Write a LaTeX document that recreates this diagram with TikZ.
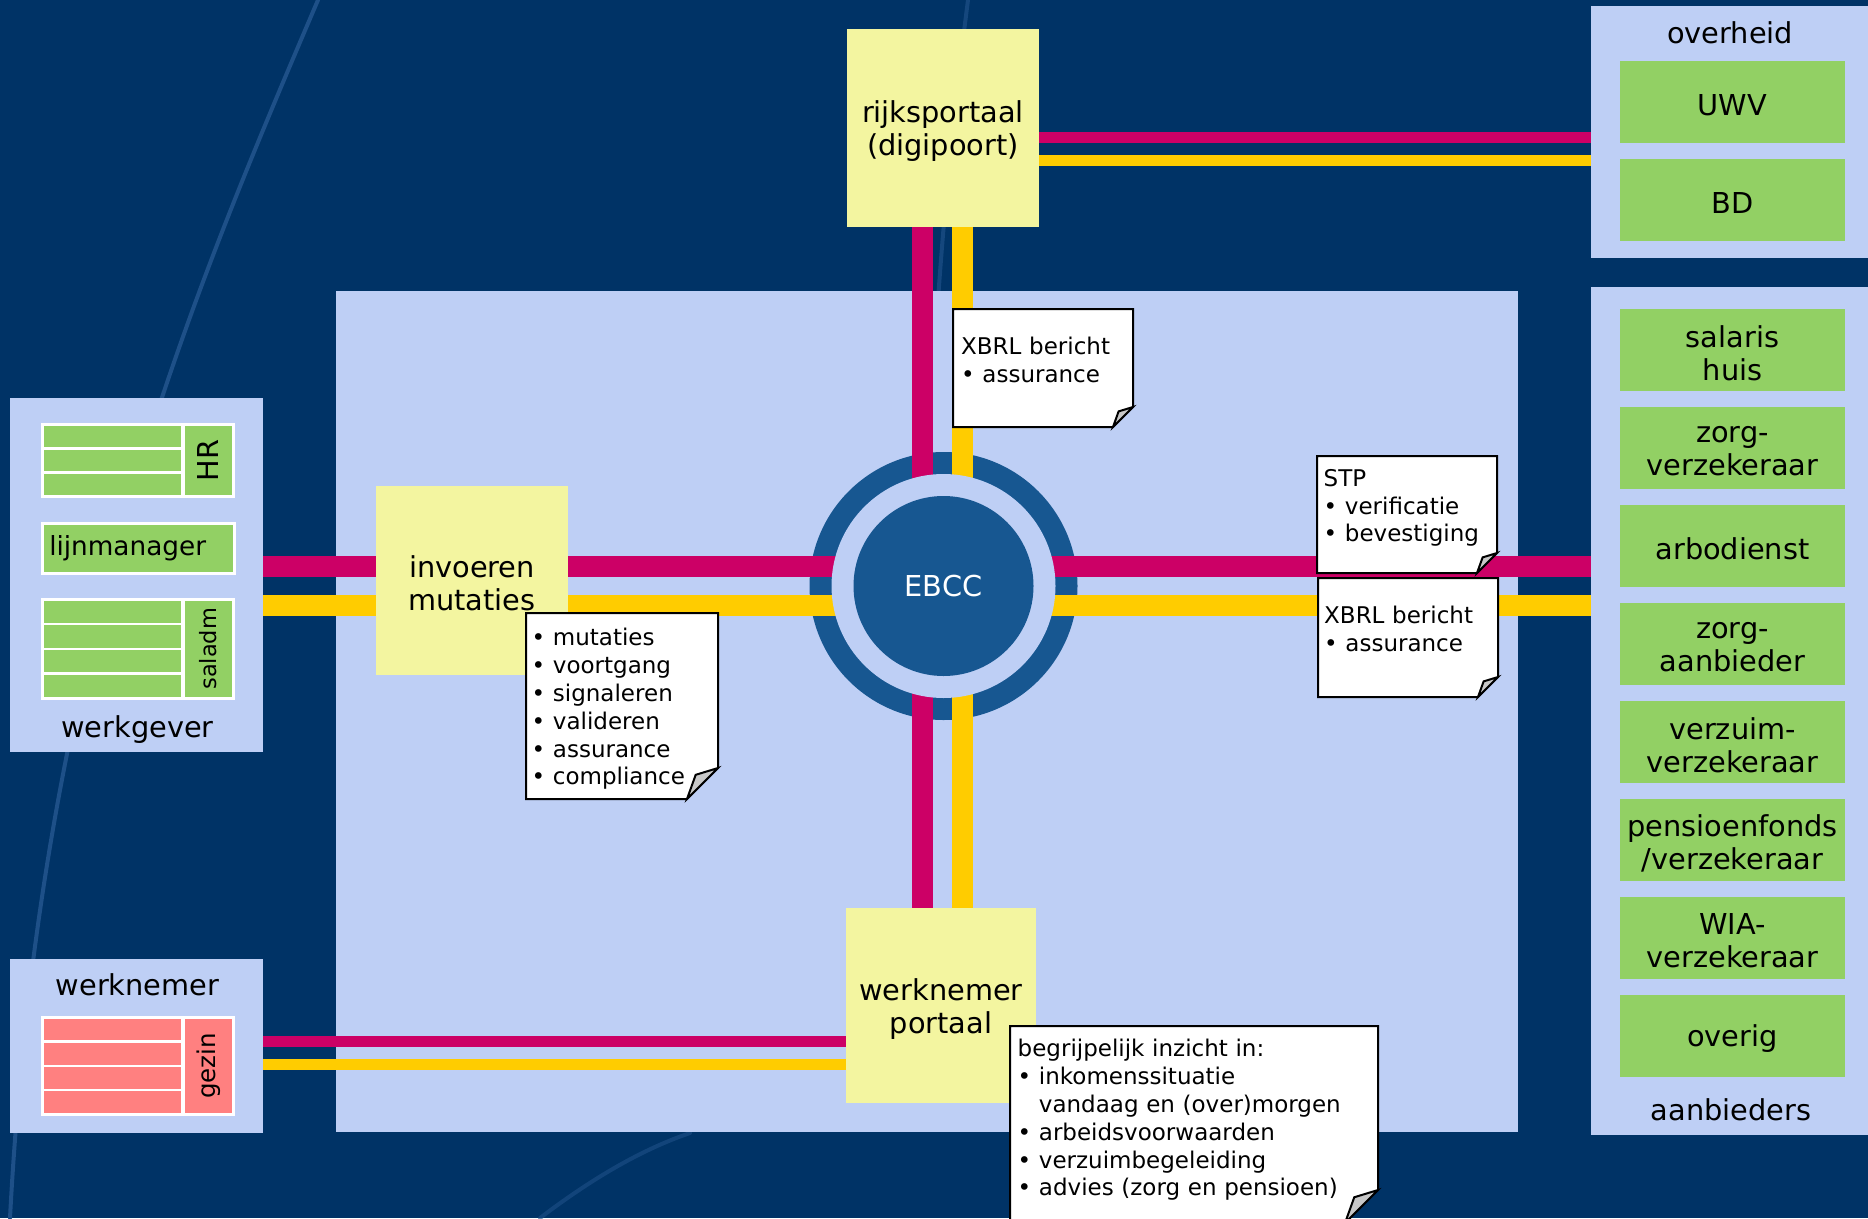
\documentclass[tikz,border=0pt]{standalone}
\usepackage{fontspec}
\setmainfont{DejaVu Sans}
\usetikzlibrary{calc}
\definecolor{bgc}{RGB}{0,51,102}
\definecolor{panelc}{RGB}{190,207,245}
\definecolor{greenc}{RGB}{146,208,100}
\definecolor{boxyel}{RGB}{243,245,160}
\definecolor{magc}{RGB}{204,0,102}
\definecolor{yelc}{RGB}{255,204,0}
\definecolor{ebccc}{RGB}{23,87,145}
\definecolor{pinkc}{RGB}{255,128,128}
\definecolor{foldc}{RGB}{200,200,200}
\definecolor{swirlc}{RGB}{30,80,136}
\newcommand\fLab{\fontsize{28.8}{33}\selectfont}
\newcommand\fNote{\fontsize{23}{27.8}\selectfont}
\newcommand\fLij{\fontsize{26.3}{30}\selectfont}
\newcommand\fSal{\fontsize{22.5}{26}\selectfont}
\newcommand\fGez{\fontsize{24.5}{28}\selectfont}
\newdimen\dgL \newdimen\dgR \newdimen\dgT \newdimen\dgB
\newdimen\dgF \newdimen\dgA \newdimen\dgC
\def\dogearsize{20pt}
\makeatletter
\pgfdeclareshape{dognote}{%
  \inheritsavedanchors[from=rectangle]%
  \inheritanchorborder[from=rectangle]%
  \inheritanchor[from=rectangle]{center}%
  \inheritanchor[from=rectangle]{text}%
  \inheritanchor[from=rectangle]{base}%
  \inheritanchor[from=rectangle]{mid}%
  \inheritanchor[from=rectangle]{north}%
  \inheritanchor[from=rectangle]{south}%
  \inheritanchor[from=rectangle]{east}%
  \inheritanchor[from=rectangle]{west}%
  \inheritanchor[from=rectangle]{north west}%
  \inheritanchor[from=rectangle]{north east}%
  \inheritanchor[from=rectangle]{south west}%
  \inheritanchor[from=rectangle]{south east}%
  \backgroundpath{%
    \southwest \dgL=\pgf@x \dgB=\pgf@y
    \northeast \dgR=\pgf@x \dgT=\pgf@y
    \dgF=\dogearsize\relax
    \dgA=\dgB \advance\dgA by \dgF
    \dgC=\dgR \advance\dgC by -\dgF
    \pgfpathmoveto{\pgfqpoint{\dgL}{\dgT}}%
    \pgfpathlineto{\pgfqpoint{\dgR}{\dgT}}%
    \pgfpathlineto{\pgfqpoint{\dgR}{\dgA}}%
    \pgfpathlineto{\pgfqpoint{\dgC}{\dgB}}%
    \pgfpathlineto{\pgfqpoint{\dgL}{\dgB}}%
    \pgfpathclose
  }%
  \beforeforegroundpath{%
    \southwest \dgL=\pgf@x \dgB=\pgf@y
    \northeast \dgR=\pgf@x \dgT=\pgf@y
    \dgF=\dogearsize\relax
    \dgA=\dgB \advance\dgA by \dgF
    \dgC=\dgR \advance\dgC by -\dgF
    \dgL=\dgR \advance\dgL by -0.72\dgF
    \dgT=\dgB \advance\dgT by 0.78\dgF
    \pgfpathmoveto{\pgfqpoint{\dgR}{\dgA}}%
    \pgfpathlineto{\pgfqpoint{\dgC}{\dgB}}%
    \pgfpathlineto{\pgfqpoint{\dgL}{\dgT}}%
    \pgfpathclose
    \pgfsetfillcolor{foldc}\pgfsetstrokecolor{black}%
    \pgfusepath{fill,stroke}%
  }%
}
\makeatother
\pgfdeclarelayer{back}
\pgfdeclarelayer{lines}
\pgfsetlayers{back,lines,main}
\begin{document}
\begin{tikzpicture}[x=1pt,y=-1pt,
  panel/.style={fill=panelc, inner sep=0pt, outer sep=0pt, anchor=north west},
  plabel/.style={anchor=base, inner sep=0pt, font=\fLab},
  gbox/.style={fill=greenc, inner sep=0pt, minimum width=225pt, minimum height=82pt},
  ybox/.style={fill=boxyel, inner sep=0pt},
  boxtext/.style={inner sep=0pt, align=center, font=\fLab},
  cellg/.style={fill=greenc, draw=white, line width=2.5pt, inner sep=0pt, anchor=north west},
  cellp/.style={fill=pinkc, draw=white, line width=2.5pt, inner sep=0pt, anchor=north west},
  rottext/.style={rotate=90, inner sep=0pt},
  magthick/.style={draw=magc, line width=21pt},
  yelthick/.style={draw=yelc, line width=21pt},
  magthin/.style={draw=magc, line width=11pt},
  yelthin/.style={draw=yelc, line width=11pt},
  note/.style={shape=dognote, fill=white, draw=black, line width=2pt, inner sep=0pt, outer sep=0pt, anchor=north west},
  dogear/.code={\def\dogearsize{#1}},
  notetext/.style={anchor=north west, inner sep=0pt, text width=360pt, align=left, font=\fNote},
  swirl/.style={draw=swirlc, line width=4pt, line cap=round}
]
\useasboundingbox (0,0) rectangle (1868,1218);
\clip (0,0) rectangle (1868,1218);

\begin{pgfonlayer}{back}
\fill[bgc] (0,0) rectangle (1868,1218);
% decorative background streaks
\draw[swirl] (318,0) .. controls (190,300) and (40,650) .. (10,1218);
\draw[swirl, opacity=0.7] (968,0) .. controls (955,100) and (945,200) .. (938,300);
\draw[swirl, opacity=0.6] (540,1218) .. controls (590,1180) and (640,1150) .. (690,1133);

% panels
\node[panel, minimum width=1182pt, minimum height=841pt] (centre) at (336,291) {};
\node[panel, minimum width=253pt, minimum height=354pt] (werkgever) at (10,398) {};
\node[panel, minimum width=253pt, minimum height=174pt] (werknemer) at (10,959) {};
\node[panel, minimum width=277pt, minimum height=252pt] (overheid) at (1591,6) {};
\node[panel, minimum width=277pt, minimum height=848pt] (aanb) at (1591,287) {};
% EBCC outer ring
\node[circle, fill=ebccc, minimum size=268pt, inner sep=0pt] (ring) at (943.5,586) {};
\end{pgfonlayer}

\node[plabel] (wglab) at (137.5,737) {werkgever};
\node[plabel] (wnlab) at (137.5,995) {werknemer};
\node[plabel] (ovlab) at (1730,43) {overheid};
\node[plabel] (aalab) at (1731,1120) {aanbieders};

% overheid and aanbieders boxes
\foreach \n/\y/\t in {uwv/102/UWV, bd/200/BD,
  a1/350/{salaris\\huis}, a2/448/{zorg-\\verzekeraar}, a3/546/{arbodienst},
  a4/644/{zorg-\\aanbieder}, a5/742/{verzuim-\\verzekeraar},
  a6/840/{pensioenfonds\\/verzekeraar}, a7/938/{WIA-\\verzekeraar}, a8/1036/{overig}}{
  \node[gbox] (\n) at (1732.5,\y) {};
  \node[boxtext] (\n t) at ([yshift=-3pt]\n.center) {\t};
}

% werkgever blocks
\node[cellg, minimum width=140pt, minimum height=24pt] (hr1) at (41,423) {};
\node[cellg, minimum width=140pt, minimum height=24pt] (hr2) at (41,447) {};
\node[cellg, minimum width=140pt, minimum height=24pt] (hr3) at (41,471) {};
\node[cellg, minimum width=50pt, minimum height=72pt] (hrcol) at (182,423) {};
\node[rottext, font=\fLab] (hrtxt) at (hrcol.center) {HR};
\node[cellg, minimum width=192pt, minimum height=50pt, text width=178pt, align=left, inner xsep=7pt, font=\fLij] (lijn) at (41,522) {lijnmanager};
\node[cellg, minimum width=140pt, minimum height=24.75pt] (sa1) at (41,598) {};
\node[cellg, minimum width=140pt, minimum height=24.75pt] (sa2) at (41,622.75) {};
\node[cellg, minimum width=140pt, minimum height=24.75pt] (sa3) at (41,647.5) {};
\node[cellg, minimum width=140pt, minimum height=24.75pt] (sa4) at (41,672.25) {};
\node[cellg, minimum width=50pt, minimum height=99pt] (sacol) at (182,598) {};
\node[rottext, font=\fSal] (satxt) at (sacol.center) {saladm};
% werknemer blocks
\node[cellp, minimum width=140pt, minimum height=24.25pt] (ge1) at (41,1016) {};
\node[cellp, minimum width=140pt, minimum height=24.25pt] (ge2) at (41,1040.25) {};
\node[cellp, minimum width=140pt, minimum height=24.25pt] (ge3) at (41,1064.5) {};
\node[cellp, minimum width=140pt, minimum height=24.25pt] (ge4) at (41,1088.75) {};
\node[cellp, minimum width=50pt, minimum height=97pt] (gecol) at (182,1016) {};
\node[rottext, font=\fGez] (getxt) at (gecol.center) {gezin};

% yellow boxes
\node[ybox, minimum width=192pt, minimum height=198pt] (rijk) at (943,128) {};
\node[boxtext] (rijkt) at ([yshift=-3.5pt]rijk.center) {rijksportaal\\(digipoort)};
\node[ybox, minimum width=192pt, minimum height=189pt] (invoer) at (472,580.5) {};
\node[boxtext] (invoert) at ([yshift=-3pt]invoer.center) {invoeren\\mutaties};
\node[ybox, minimum width=190pt, minimum height=195pt] (wportaal) at (941,1005.5) {};
\node[boxtext] (wportaalt) at ([yshift=-4pt]wportaal.center) {werknemer\\portaal};

% connectors
\coordinate (hm) at (0,566.5);
\coordinate (hy) at (0,605.5);
\coordinate (vm) at (922.5,0);
\coordinate (vy) at (962.5,0);
\coordinate (tm) at (0,137.5);
\coordinate (ty) at (0,160.5);
\coordinate (wm) at (0,1041.5);
\coordinate (wy) at (0,1064);
\begin{pgfonlayer}{lines}
\draw[magthick] (werkgever.east |- hm) -- (aanb.west |- hm);
\draw[yelthick] (werkgever.east |- hy) -- (aanb.west |- hy);
\draw[magthick] (rijk.south -| vm) -- (wportaal.north -| vm);
\draw[yelthick] (rijk.south -| vy) -- (wportaal.north -| vy);
\draw[magthin] (rijk.east |- tm) -- (overheid.west |- tm);
\draw[yelthin] (rijk.east |- ty) -- (overheid.west |- ty);
\draw[magthin] (werknemer.east |- wm) -- (wportaal.west |- wm);
\draw[yelthin] (werknemer.east |- wy) -- (wportaal.west |- wy);
\end{pgfonlayer}

% EBCC inner
\node[circle, fill=panelc, minimum size=224pt, inner sep=0pt] (gap) at (ring.center) {};
\node[circle, fill=ebccc, minimum size=180pt, inner sep=0pt, text=white, font=\fLab] (ebcc) at (ring.center) {EBCC};

% notes
\node[note, dogear=20pt, minimum width=180pt, minimum height=118pt] (n1) at (953,309) {};
\node[notetext] (n1t) at (961,334) {\rule{0pt}{20pt}XBRL bericht\\• assurance};
\node[note, dogear=31pt, minimum width=192pt, minimum height=186pt] (n2) at (526,613) {};
\node[notetext] (n2t) at (531.5,625.7) {\rule{0pt}{20pt}• mutaties\\• voortgang\\• signaleren\\• valideren\\• assurance\\• compliance};
\node[note, dogear=20pt, minimum width=180pt, minimum height=117pt] (n3) at (1317,456) {};
\node[notetext] (n3t) at (1323.5,466) {\rule{0pt}{20pt}STP\\• verificatie\\• bevestiging};
\node[note, dogear=20pt, minimum width=180pt, minimum height=119pt] (n4) at (1318,578) {};
\node[notetext] (n4t) at (1324,603) {\rule{0pt}{20pt}XBRL bericht\\• assurance};
\node[note, dogear=33pt, minimum width=368pt, minimum height=197pt] (n5) at (1010,1026) {};
\node[notetext] (n5t) at (1017.5,1036.7) {\rule{0pt}{20pt}begrijpelijk inzicht in:\\• inkomenssituatie\\\phantom{• }vandaag en (over)morgen\\• arbeidsvoorwaarden\\• verzuimbegeleiding\\• advies (zorg en pensioen)};
\end{tikzpicture}
\end{document}
